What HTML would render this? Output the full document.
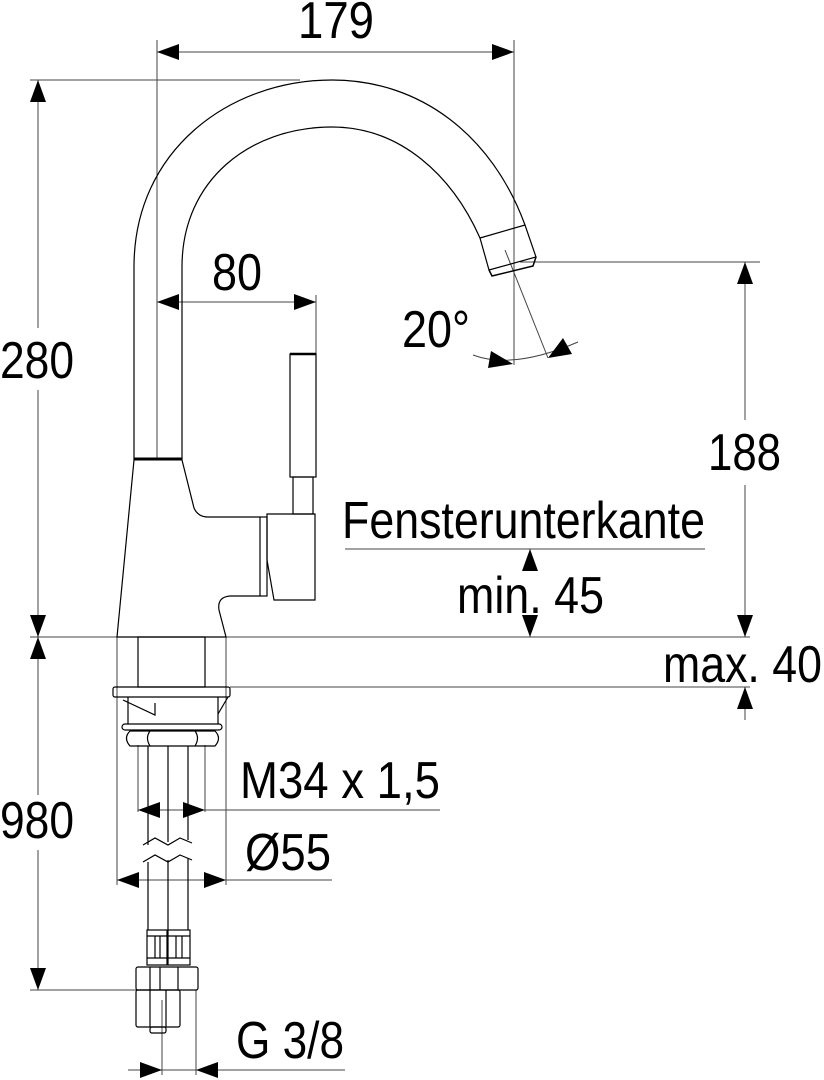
<!DOCTYPE html>
<html><head><meta charset="utf-8"><style>
html,body{margin:0;padding:0;background:#fff;}
svg{display:block;}
text{font-family:"Liberation Sans",sans-serif;fill:#000;}
</style></head><body>
<svg width="824" height="1080" viewBox="0 0 824 1080" xmlns="http://www.w3.org/2000/svg">
<g fill="none" stroke="#000" stroke-width="1.2">
<!-- dimension / extension lines (thin grey) -->
<g stroke="#444" stroke-width="1">
<line x1="157" y1="40" x2="157" y2="460"/>
<line x1="514" y1="40" x2="514" y2="365"/>
<line x1="157" y1="52" x2="514" y2="52"/>
<line x1="30" y1="80" x2="300" y2="80"/>
<line x1="38" y1="80" x2="38" y2="328"/>
<line x1="38" y1="390" x2="38" y2="637"/>
<line x1="38" y1="637" x2="38" y2="795"/>
<line x1="38" y1="850" x2="38" y2="990"/>
<line x1="30" y1="990" x2="137" y2="990"/>
<line x1="157" y1="302" x2="316" y2="302"/>
<line x1="316" y1="295" x2="316" y2="355"/>
<line x1="30" y1="637" x2="750" y2="637"/>
<line x1="230" y1="687" x2="750" y2="687"/>
<line x1="745" y1="262" x2="745" y2="420"/>
<line x1="745" y1="485" x2="745" y2="637"/>
<line x1="745" y1="687" x2="745" y2="720"/>
<line x1="520" y1="262" x2="760" y2="262"/>
<line x1="345" y1="549" x2="705" y2="549"/>
<line x1="530" y1="549" x2="530" y2="560"/>
<line x1="530" y1="620" x2="530" y2="637"/>
<line x1="505" y1="250" x2="548" y2="358"/>
<path d="M473,355 Q513,370 578,342"/>
<line x1="117" y1="637" x2="117" y2="885"/>
<line x1="226" y1="637" x2="226" y2="885"/>
<line x1="138" y1="745" x2="138" y2="812"/>
<line x1="205" y1="745" x2="205" y2="812"/>
<line x1="138" y1="810" x2="440" y2="810"/>
<line x1="117" y1="880" x2="332" y2="880"/>
<line x1="162" y1="1000" x2="162" y2="1075"/>
<line x1="196" y1="990" x2="196" y2="1075"/>
<line x1="128" y1="1070" x2="345" y2="1070"/>
<line x1="157" y1="267" x2="157" y2="460" stroke-dasharray="14,3,2,3"/>
</g>
<!-- spout -->
<path d="M134,460 L134,267 C134,150 230,80 332,80 C420,80 492,135 525,225"/>
<path d="M182,460 L182,267 C182,180 250,127 332,127 C400,127 452,175 480,238"/>
<path d="M480,238 L525,225 L536,257 L489,270 Z"/>
<path d="M489,270 L492,276 L533,266 L536,257" stroke-width="1.5"/>
<line x1="134" y1="459" x2="182" y2="459" stroke-width="3"/>
<!-- body -->
<path d="M134,460 L117,637 L226,637 L219,610 Q217,597 230,596 L260,596"/>
<path d="M182,460 L194,508 Q198,517 208,517 L260,517"/>
<rect x="260" y="517" width="7" height="79"/>
<path d="M267,514 L315,514 L315,600 L274,600 L267,560 Z"/>
<rect x="293" y="477" width="20" height="37"/>
<rect x="290" y="354" width="26" height="123"/>
<line x1="290" y1="354" x2="316" y2="354" stroke-width="2.5"/>
<!-- base -->
<rect x="138" y="637" width="67" height="50"/>
<rect x="113" y="687" width="117" height="10" rx="2"/>
<path d="M128,697 L128,724 M218,697 L218,724 M123,700 L155,715 L155,703"/>
<path d="M218,714 L228,697"/>
<rect x="122" y="724" width="100" height="6" rx="3"/>
<path d="M130,731 L215,731 Q222,738 215,746 L130,746 Q123,738 130,731 Z"/>
<path d="M150,731 Q145,738 150,746 M195,731 Q200,738 195,746"/>
<!-- pipes -->
<path d="M148,746 L148,845 M168,746 L168,842 M188,746 L188,840"/>
<path d="M143,845 L155,838 L168,845 L180,838 L192,843"/>
<path d="M143,862 L155,855 L168,862 L180,855 L192,860"/>
<path d="M148,862 L148,930 M168,860 L168,930 M188,858 L188,930"/>
<!-- fittings -->
<rect x="147" y="930" width="20" height="35"/>
<rect x="168" y="930" width="22" height="35"/>
<path d="M147,936 L190,936 M147,958 L190,958 M155,936 L155,958 M160,936 L160,958 M176,936 L176,958 M182,936 L182,958"/>
<rect x="136" y="967" width="62" height="23" rx="2"/>
<path d="M150,967 L150,990 M160,967 L160,990 M178,967 L178,990"/>
<rect x="136" y="990" width="44" height="37" rx="2"/>
<path d="M150,990 L150,1027 M166,990 L166,1027"/>
<rect x="150" y="1027" width="16" height="6" rx="2"/>
</g>
<!-- arrowheads -->
<g fill="#000" stroke="none">
<polygon points="157,52 179,44 179,60"/>
<polygon points="514,52 492,44 492,60"/>
<polygon points="38,80 30,102 46,102"/>
<polygon points="38,637 30,615 46,615"/>
<polygon points="38,637 30,659 46,659"/>
<polygon points="38,990 30,968 46,968"/>
<polygon points="157,302 179,294 179,310"/>
<polygon points="316,302 294,294 294,310"/>
<polygon points="745,262 737,284 753,284"/>
<polygon points="745,637 737,615 753,615"/>
<polygon points="745,687 737,709 753,709"/>
<polygon points="530,549 522,571 538,571"/>
<polygon points="530,637 522,615 538,615"/>
<polygon points="513,364 491,351 488,368"/>
<polygon points="548,358 563,338 572,354"/>
<polygon points="138,810 160,802 160,818"/>
<polygon points="205,810 183,802 183,818"/>
<polygon points="117,880 139,872 139,888"/>
<polygon points="226,880 204,872 204,888"/>
<polygon points="162,1070 140,1062 140,1078"/>
<polygon points="196,1070 218,1062 218,1078"/>
</g>
<!-- text -->
<g font-size="52">
<text x="298" y="38" textLength="76" lengthAdjust="spacingAndGlyphs">179</text>
<text x="0" y="378" textLength="74" lengthAdjust="spacingAndGlyphs">280</text>
<text x="0" y="838" textLength="74" lengthAdjust="spacingAndGlyphs">980</text>
<text x="212" y="290" textLength="50" lengthAdjust="spacingAndGlyphs">80</text>
<text x="402" y="347" textLength="68" lengthAdjust="spacingAndGlyphs">20°</text>
<text x="708" y="470" textLength="73" lengthAdjust="spacingAndGlyphs">188</text>
<text x="342" y="538" textLength="363" lengthAdjust="spacingAndGlyphs">Fensterunterkante</text>
<text x="457" y="613" textLength="147" lengthAdjust="spacingAndGlyphs">min. 45</text>
<text x="663" y="682" textLength="159" lengthAdjust="spacingAndGlyphs">max. 40</text>
<text x="240" y="798" textLength="200" lengthAdjust="spacingAndGlyphs">M34 x 1,5</text>
<text x="245" y="870" textLength="86" lengthAdjust="spacingAndGlyphs">Ø55</text>
<text x="236" y="1058" textLength="108" lengthAdjust="spacingAndGlyphs">G 3/8</text>
</g>
</svg>
</body></html>
